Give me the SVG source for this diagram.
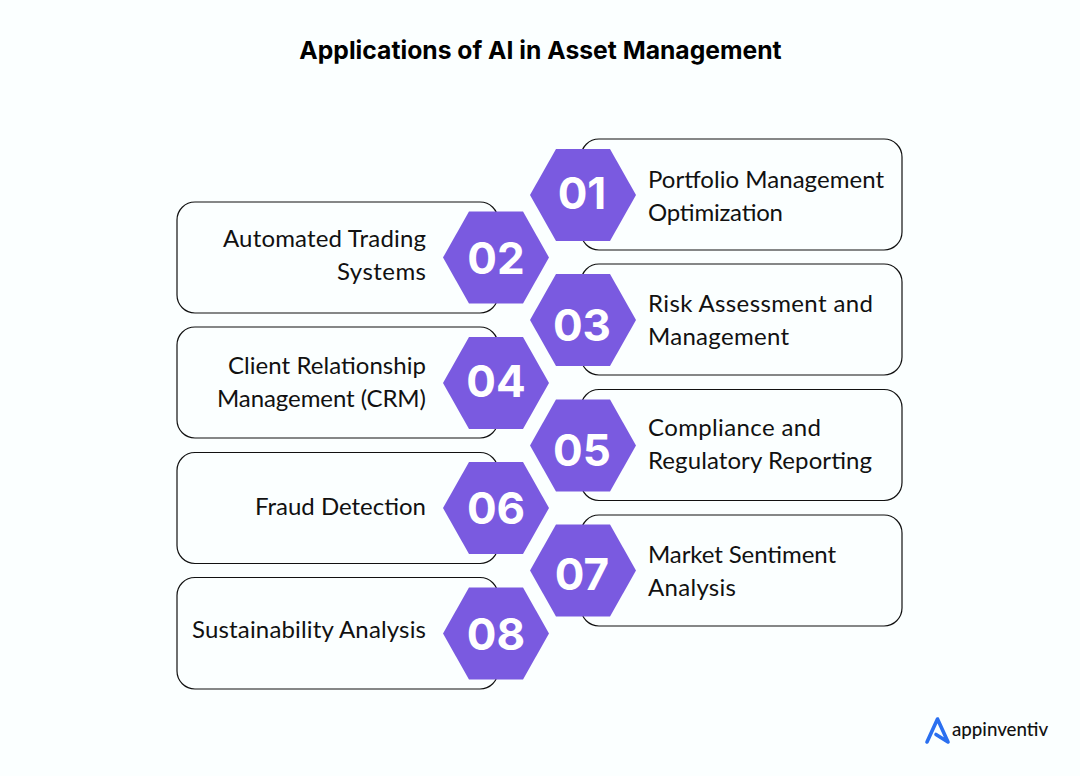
<svg xmlns="http://www.w3.org/2000/svg" width="1080" height="776" viewBox="0 0 1080 776">
<style>
.t{font-family:"Lato","Noto Sans",sans-serif;font-size:24px;fill:#111}
.r{text-anchor:end}
.box{fill:#fbffff;stroke:#111;stroke-width:1.2}
.hex{fill:#7a5ae0}
.n{font-family:"Inter","Open Sans",sans-serif;font-weight:700;font-size:44px;fill:#fff;text-anchor:middle}
.title{font-family:"Inter","Open Sans",sans-serif;font-weight:700;font-size:24.700px;fill:#000;text-anchor:middle}
</style>
<defs><polygon id="h" points="-53,0 -27,-46 27,-46 53,0 27,46 -27,46"/></defs>
<rect width="1080" height="776" fill="#fbffff"/>
<text class="title" x="540.5" y="58.500">Applications of AI in Asset Management</text>
<g id="connectors"/>
<g id="node-01"><rect class="box" x="581" y="139" width="321" height="111" rx="18"/><use class="hex" href="#h" x="583" y="195"/><text class="n" x="582" y="209">01</text><text class="t" x="648" y="188" textLength="236">Portfolio Management</text><text class="t" x="648" y="221" textLength="135">Optimization</text></g>
<g id="node-02"><rect class="box" x="177" y="202" width="321" height="111" rx="18"/><use class="hex" href="#h" x="496" y="257.500"/><text class="n" x="496" y="274">02</text><text class="t r" x="426" y="247" textLength="203">Automated Trading</text><text class="t r" x="426" y="280" textLength="89">Systems</text></g>
<g id="node-03"><rect class="box" x="581" y="264" width="321" height="111" rx="18"/><use class="hex" href="#h" x="583" y="320"/><text class="n" x="582" y="341">03</text><text class="t" x="648" y="312" textLength="225">Risk Assessment and</text><text class="t" x="648" y="345" textLength="141">Management</text></g>
<g id="node-04"><rect class="box" x="177" y="327" width="321" height="111" rx="18"/><use class="hex" href="#h" x="496" y="383"/><text class="n" x="496" y="397">04</text><text class="t r" x="426" y="374" textLength="198">Client Relationship</text><text class="t r" x="426" y="407" textLength="209">Management (CRM)</text></g>
<g id="node-05"><rect class="box" x="581" y="389.500" width="321" height="111" rx="18"/><use class="hex" href="#h" x="583" y="445.500"/><text class="n" x="582" y="466">05</text><text class="t" x="648" y="436" textLength="173">Compliance and</text><text class="t" x="648" y="469" textLength="224">Regulatory Reporting</text></g>
<g id="node-06"><rect class="box" x="177" y="452.500" width="321" height="111" rx="18"/><use class="hex" href="#h" x="496" y="508"/><text class="n" x="496" y="524">06</text><text class="t r" x="426" y="515" textLength="171">Fraud Detection</text></g>
<g id="node-07"><rect class="box" x="581" y="515" width="321" height="111" rx="18"/><use class="hex" href="#h" x="583" y="570.500"/><text class="n" x="582" y="590">07</text><text class="t" x="648" y="563" textLength="188">Market Sentiment</text><text class="t" x="648" y="596" textLength="88">Analysis</text></g>
<g id="node-08"><rect class="box" x="177" y="577.500" width="321" height="111.500" rx="18"/><use class="hex" href="#h" x="496" y="633.500"/><text class="n" x="496" y="650">08</text><text class="t r" x="426" y="638" textLength="234">Sustainability Analysis</text></g>
<g id="logo"><path d="M927 742 L937.500 719 L948 742 L936 734.500" fill="none" stroke="#2a6ff0" stroke-width="3.600" stroke-linejoin="round" stroke-linecap="round"/><text x="952" y="736" font-family="Lato,'Noto Sans',sans-serif" font-size="18.700" font-weight="500" fill="#111">appinventiv</text></g>
</svg>
